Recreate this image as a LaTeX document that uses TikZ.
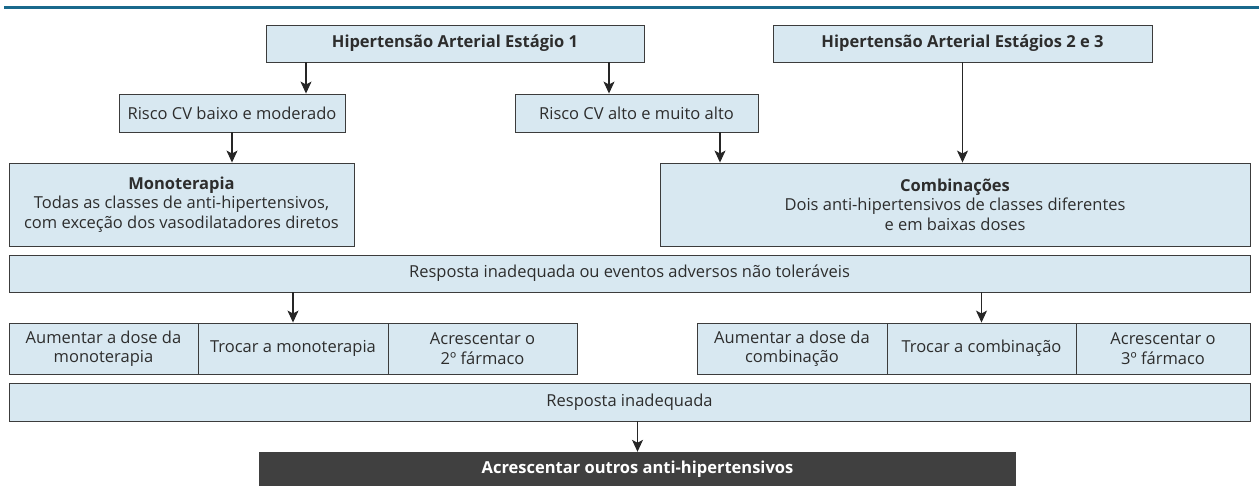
\documentclass[tikz,border=0pt]{standalone}
\usepackage{fontspec}
\setmainfont{Open Sans}
\usetikzlibrary{arrows.meta,positioning}

\definecolor{boxfill}{RGB}{216,232,241}
\definecolor{boxline}{RGB}{60,60,60}
\definecolor{darkfill}{RGB}{64,64,64}
\definecolor{ruleblue}{RGB}{25,105,140}
\definecolor{txt}{RGB}{45,45,45}

\newcommand{\chartfont}{\fontsize{16.5}{19.5}\selectfont}

\begin{document}
\begin{tikzpicture}[x=1pt, y=-1pt,
        flowbox/.style={draw=boxline, fill=boxfill, line width=0.9pt, text=txt, align=center, inner sep=0pt, font=\chartfont},
        darkbox/.style={fill=darkfill, text=white, align=center, inner sep=0pt, font=\chartfont\bfseries},
        flowarrow/.style={-{Stealth[length=12pt, width=11pt, inset=3pt]}, line width=1.1pt, draw=black!85}]
        \useasboundingbox (0,0) rectangle (1259,486);
        \draw[ruleblue, line width=3pt] (4,8) -- (1259,8);

        % stages
        \node[flowbox, minimum width=378pt, minimum height=37pt] (stage1) at (455,43.5) {\textbf{Hipertensão Arterial Estágio 1}};
        \node[flowbox, minimum width=379pt, minimum height=37pt] (stage2) at (962.5,43.5) {\textbf{Hipertensão Arterial Estágios 2 e 3}};

        % risk
        \node[flowbox, minimum width=226pt, minimum height=38pt] (riskLow) at (232,113) {Risco CV baixo e moderado};
        \node[flowbox, minimum width=243pt, minimum height=38pt] (riskHigh) at (636.5,113) {Risco CV alto e muito alto};

        % first treatment
        \node[flowbox, minimum width=345pt, minimum height=83pt] (mono) at (181.5,204.5) {\textbf{Monoterapia}\\Todas as classes de anti-hipertensivos,\\com exceção dos vasodilatadores diretos};
        \node[flowbox, minimum width=590pt, minimum height=83pt] (combo) at (955,204.5) {\textbf{Combinações}\\Dois anti-hipertensivos de classes diferentes\\e em baixas doses};

        \node[flowbox, minimum width=1241pt, minimum height=37pt] (resp1) at (629.5,273.5) {Resposta inadequada ou eventos adversos não toleráveis};

        % options
        \node[flowbox, minimum width=189pt, minimum height=51pt] (monoDose) at (103.5,348.5) {Aumentar a dose da\\monoterapia};
        \node[flowbox, minimum width=190pt, minimum height=51pt] (monoSwap) at (293,348.5) {Trocar a monoterapia};
        \node[flowbox, minimum width=189pt, minimum height=51pt] (monoAdd) at (482.5,348.5) {Acrescentar o\\2º fármaco};
        \node[flowbox, minimum width=190pt, minimum height=51pt] (comboDose) at (792,348.5) {Aumentar a dose da\\combinação};
        \node[flowbox, minimum width=189pt, minimum height=51pt] (comboSwap) at (981.5,348.5) {Trocar a combinação};
        \node[flowbox, minimum width=174pt, minimum height=51pt] (comboAdd) at (1163,348.5) {Acrescentar o\\3º fármaco};

        \node[flowbox, minimum width=1241pt, minimum height=38pt] (resp2) at (629.5,402) {Resposta inadequada};
        \node[darkbox, minimum width=757pt, minimum height=34pt] (final) at (637.5,469) {Acrescentar outros anti-hipertensivos};

        % arrows
        \draw[flowarrow] (stage1.south -| 306,0) -- (riskLow.north -| 306,0);
        \draw[flowarrow] (stage1.south -| 609,0) -- (riskHigh.north -| 609,0);
        \draw[flowarrow] (riskLow.south) -- (mono.north -| riskLow.south);
        \draw[flowarrow] (riskHigh.south -| 720,0) -- (combo.north -| 720,0);
        \draw[flowarrow] (stage2.south) -- (combo.north -| stage2.south);
        \draw[flowarrow] (resp1.south -| monoSwap.north) -- (monoSwap.north);
        \draw[flowarrow] (resp1.south -| comboSwap.north) -- (comboSwap.north);
        \draw[flowarrow] (resp2.south -| final.north) -- (final.north);
\end{tikzpicture}
\end{document}
